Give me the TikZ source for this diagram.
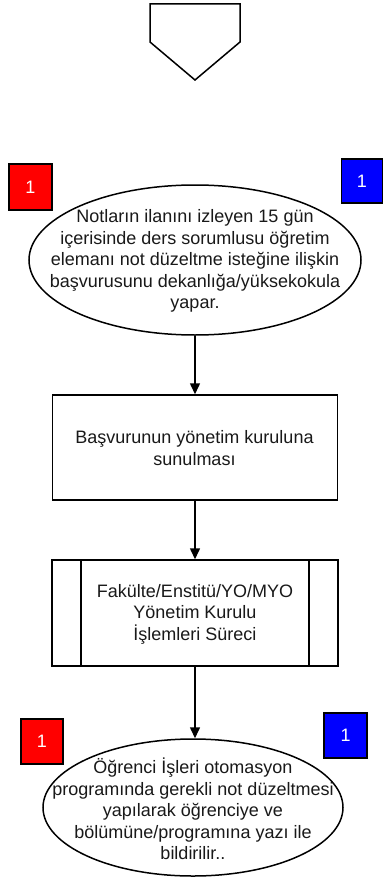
\documentclass[tikz,border=0pt]{standalone}
\usepackage{fontspec}
\setmainfont{Liberation Sans}
\usetikzlibrary{shapes.geometric,arrows.meta}
\tikzset{
  x=1pt,y=-1pt,
  line/.style={line width=1.5pt,black},
  ell/.style={draw,line width=1.5pt,ellipse,inner sep=0pt,fill=white},
  box/.style={draw,line width=1.5pt,rectangle,inner sep=0pt,fill=white},
  txt/.style={align=center,font=\fontsize{18}{21.6}\selectfont,text=black!90},
  sq/.style={draw,line width=1.5pt,rectangle,inner sep=0pt,text=white,font=\fontsize{18}{21.6}\selectfont},
  conn/.style={line width=1.5pt,-{Triangle[width=10pt,length=11pt]}}
}
\begin{document}
\begin{tikzpicture}
\useasboundingbox (0,0) rectangle (384,880);
% off-page connector
\draw[line,line join=miter] (150,4) -- (240,4) -- (240,42) -- (195,80) -- (150,42) -- cycle;
% first ellipse
\node[ell,minimum width=332pt,minimum height=150pt] (e1) at (195,260) {};
\node[txt] (t1) at (195,261) {Notların ilanını izleyen 15 gün\\içerisinde ders sorumlusu öğretim\\elemanı not düzeltme isteğine ilişkin\\başvurusunu dekanlığa/yüksekokula\\yapar.};
\node[sq,fill=red,minimum width=43pt,minimum height=46pt] (rs1) at (30.5,187) {1};
\node[sq,fill=blue,minimum width=41pt,minimum height=44pt] (bs1) at (362,181) {1};
% rectangle
\node[box,minimum width=285pt,minimum height=105pt] (r2) at (195,447.5) {};
\node[txt] (t2) at (194.5,448) {Başvurunun yönetim kuruluna\\sunulması};
% predefined process
\node[box,minimum width=286pt,minimum height=106pt] (r3) at (195,613) {};
\draw[line] (81,560) -- (81,666);
\draw[line] (309,560) -- (309,666);
\node[txt] (t3) at (195,614) {Fakülte/Enstitü/YO/MYO\\Yönetim Kurulu\\İşlemleri Süreci};
% last ellipse
\node[ell,minimum width=300pt,minimum height=137pt] (e4) at (193,807.5) {};
\node[txt] (t4) at (193,809) {Öğrenci İşleri otomasyon\\programında gerekli not düzeltmesi\\yapılarak öğrenciye ve\\bölümüne/programına yazı ile\\bildirilir..};
\node[sq,fill=red,minimum width=42pt,minimum height=45pt] (rs2) at (42,741.5) {1};
\node[sq,fill=blue,minimum width=43pt,minimum height=45pt] (bs2) at (345.5,735.5) {1};
% connectors
\draw[conn] (e1.south) -- (e1.south |- r2.north);
\draw[conn] (r2.south) -- (r2.south |- r3.north);
\draw[conn] (r3.south) -- (r3.south |- e4.north);
\end{tikzpicture}
\end{document}
